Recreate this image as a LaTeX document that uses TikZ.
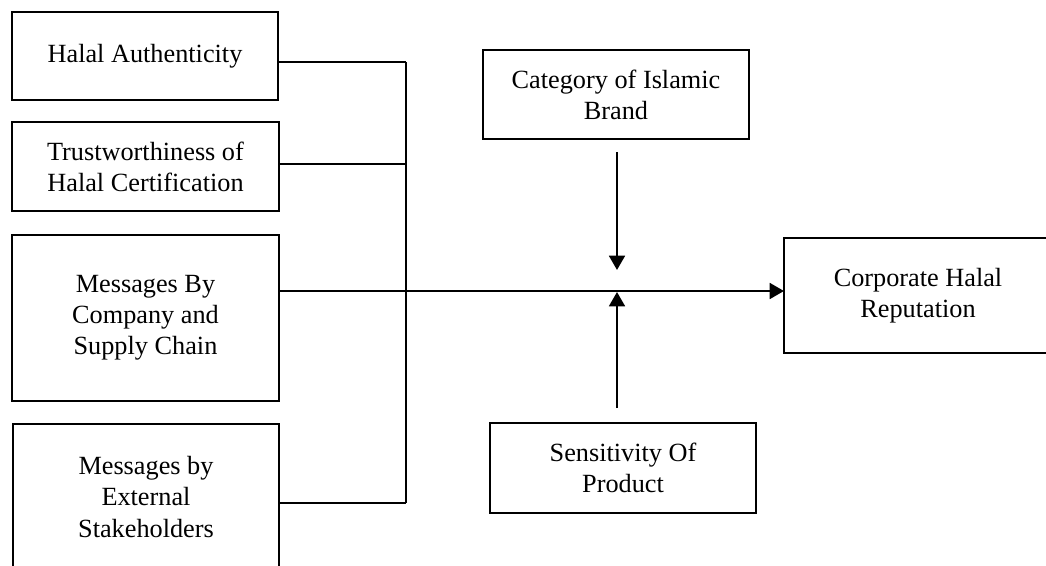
\documentclass[tikz,border=0pt]{standalone}
\usepackage{fontspec}
\setmainfont{Liberation Serif}
\usetikzlibrary{arrows.meta}
\begin{document}
\begin{tikzpicture}[x=0.75pt,y=-0.75pt,
  box/.style={draw,line width=1.2pt,inner sep=0pt,outer sep=0pt,align=center,
    font=\fontsize{19.7}{23.3}\selectfont},
  thin/.style={line width=0.8pt},
  arr/.style={line width=1.8pt,-{Triangle[length=10.7pt,width=11.8pt]}}]
\useasboundingbox (0,0) rectangle (1046,565);
\begin{scope}
\clip (0,0) rectangle (1046,565);
\node[box,minimum width=199.5pt,minimum height=66pt] (ha) at (145,56) {Halal Authenticity};
\node[box,minimum width=200.25pt,minimum height=66.75pt] (tw) at (145.5,166.5) {Trustworthiness of\\Halal Certification};
\node[box,minimum width=200.25pt,minimum height=124.5pt] (mc) at (145.5,318) {Messages By\\Company and\\Supply Chain};
\node[box,minimum width=199.5pt,minimum height=109.5pt] (me) at (146,497) {Messages by\\External\\Stakeholders};
\node[box,minimum width=199.5pt,minimum height=66.75pt] (cat) at (616,94.5) {Category of Islamic\\Brand};
\node[box,minimum width=199.5pt,minimum height=67.5pt] (sen) at (623,468) {Sensitivity Of\\Product};
\node[box,minimum width=201pt,minimum height=86.25pt] (cor) at (918,295.5) {Corporate Halal\\Reputation};

\coordinate (j) at (406,291);
\coordinate (jt) at (406.5,291);
\coordinate (bt) at (406,62);
\coordinate (bm) at (406,164);
\coordinate (bb) at (406,503);
\coordinate (catout) at (617,152);
\coordinate (catin) at (617,270);
\coordinate (senout) at (617,408);
\coordinate (senin) at (617,292);

\draw[thin] (ha.east |- bt) -- (bt);
\draw[thin] (tw.east |- bm) -- (bm);
\draw[thin] (mc.east |- j) -- (j);
\draw[thin] (me.east |- bb) -- (bb);
\draw[thin] (bt) -- (bb);
\draw[arr] (jt) -- (jt -| cor.west);
\draw[arr] (catout) -- (catin);
\draw[arr] (senout) -- (senin);
\end{scope}
\end{tikzpicture}
\end{document}
